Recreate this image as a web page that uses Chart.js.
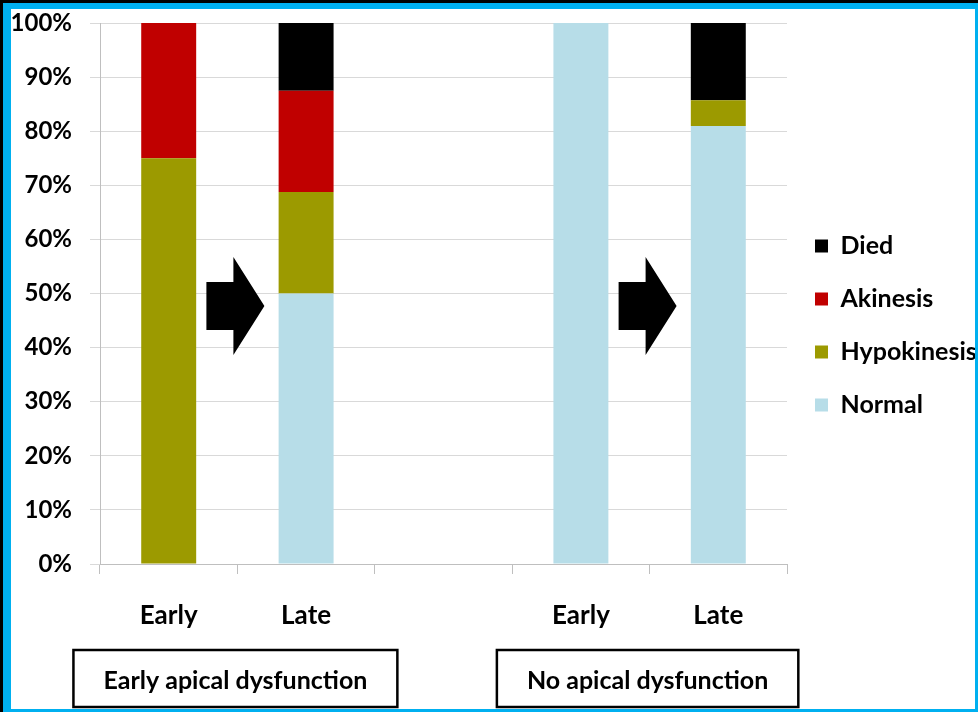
<!DOCTYPE html>
<html>
<head>
<meta charset="utf-8">
<script src="https://cdn.jsdelivr.net/npm/chart.js@4.4.1/dist/chart.umd.min.js"></script>
<style>
  html, body { margin: 0; padding: 0; background: #000; }
  body { width: 978px; height: 712px; overflow: hidden; position: relative; }
  #frame { position: absolute; left: 3px; top: 3px; width: 975px; height: 709px; background: #00b0f0; }
  #panel { position: absolute; left: 8px; top: 6px; width: 964px; height: 700px; background: #fff; overflow: hidden; }
</style>
</head>
<body>
<div id="frame">
  <div id="panel"><canvas id="myChart" width="964" height="700"></canvas></div>
</div>
<script>
// categories along the x axis (third slot is the gap between groups)
const categories = ['Early', 'Late', '', 'Early', 'Late']
const groups = ['Early apical dysfunction', 'No apical dysfunction']

// percentages per category, stacked bottom to top
const normal = [0, 50, null, 100, 80.95]
const hypokinesis = [75, 18.75, null, 0, 4.76]
const akinesis = [25, 18.75, null, 0, 0]
const died = [0, 12.5, null, 0, 14.29]

const FONT = 'Lato'

// arrows sit on the boundary between Early and Late of each group
const arrowBetween = [[0, 1], [3, 4]]
const arrowLevel = 47.7

const extras = {
    id: 'extras',
    afterDraw(chart) {
        const ctx = chart.ctx
        const x = chart.scales.x
        const y = chart.scales.y
        ctx.save()

        ctx.fillStyle = '#000'
        arrowBetween.forEach(([a, b]) => {
            let cx = (x.getPixelForValue(a) + x.getPixelForValue(b)) / 2 - 2
            let cy = y.getPixelForValue(arrowLevel)
            ctx.beginPath()
            ctx.moveTo(cx - 29, cy - 24)
            ctx.lineTo(cx - 2, cy - 24)
            ctx.lineTo(cx - 2, cy - 49)
            ctx.lineTo(cx + 29, cy)
            ctx.lineTo(cx - 2, cy + 49)
            ctx.lineTo(cx - 2, cy + 24)
            ctx.lineTo(cx - 29, cy + 24)
            ctx.closePath()
            ctx.fill()
        })

        // group label boxes under the axis
        ctx.font = `bold 25px ${FONT}`
        ctx.textAlign = 'center'
        ctx.textBaseline = 'middle'
        ctx.strokeStyle = '#000'
        ctx.lineWidth = 2.5
        groups.forEach((g, i) => {
            let a = i * 3
            let cx = (x.getPixelForValue(a) + x.getPixelForValue(a + 1)) / 2 - 2
            let w = ctx.measureText(g).width + 60
            ctx.strokeRect(cx - w / 2, 641, w, 57)
            ctx.fillStyle = '#000'
            ctx.fillText(g, cx, 672)
        })
        ctx.restore()
    }
}

new Chart(document.getElementById('myChart'), {
    type: 'bar',
    data: {
        labels: categories,
        datasets: [
            { label: 'Normal', data: normal, backgroundColor: '#b7dde8' },
            { label: 'Hypokinesis', data: hypokinesis, backgroundColor: '#9c9a00' },
            { label: 'Akinesis', data: akinesis, backgroundColor: '#c00000' },
            { label: 'Died', data: died, backgroundColor: '#000000' }
        ]
    },
    options: {
        responsive: false,
        animation: false,
        datasets: {
            bar: { borderWidth: 0, categoryPercentage: 1, barPercentage: 0.4 }
        },
        layout: { padding: { top: 4, left: 0, right: 0, bottom: 71 } },
        plugins: {
            tooltip: { enabled: false },
            legend: {
                position: 'right',
                align: 'center',
                reverse: true,
                maxWidth: 188,
                labels: {
                    color: '#000',
                    boxWidth: 13,
                    boxHeight: 13,
                    padding: 28,
                    font: { family: FONT, size: 25, weight: 'bold' }
                }
            }
        },
        scales: {
            x: {
                stacked: true,
                grid: { drawOnChartArea: false, offset: true, tickLength: 10, color: '#bfbfbf' },
                border: { color: '#bfbfbf' },
                ticks: { color: '#000', padding: 26, font: { family: FONT, size: 26, weight: 'bold' } },
                afterFit(scale) { scale.height = 74 }
            },
            y: {
                stacked: true,
                min: 0,
                max: 100,
                grid: { color: '#d9d9d9', tickLength: 10 },
                border: { color: '#bfbfbf' },
                ticks: {
                    stepSize: 10,
                    color: '#000',
                    padding: 18,
                    font: { family: FONT, size: 24, weight: 'bold' },
                    callback: (v) => v + '%'
                },
                afterFit(scale) {
                    scale.width = 89
                    scale.paddingTop = 14
                }
            }
        }
    },
    plugins: [extras]
})
</script>
</body>
</html>
